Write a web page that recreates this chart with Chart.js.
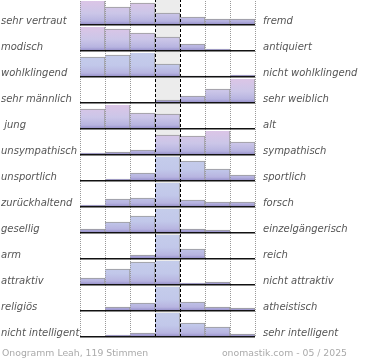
<!DOCTYPE html>
<html>
<head>
<meta charset="utf-8">
<script src="https://cdn.jsdelivr.net/npm/chart.js@4"></script>
<style>
  html, body { margin: 0; padding: 0; background: #fff; overflow: hidden; }
  #onogramm { position: absolute; left: 0; top: -1px; }
</style>
</head>
<body>
<canvas id="onogramm" width="370" height="362"></canvas>
<script>
// Gegensatzpaare (links / rechts)
const leftLabels = ["sehr vertraut", "modisch", "wohlklingend", "sehr männlich", " jung",
  "unsympathisch", "unsportlich", "zurückhaltend", "gesellig", "arm", "attraktiv",
  "religiös", "nicht intelligent"];
const rightLabels = ["fremd", "antiquiert", "nicht wohlklingend", "sehr weiblich", "alt",
  "sympathisch", "sportlich", "forsch", "einzelgängerisch", "reich", "nicht attraktiv",
  "atheistisch", "sehr intelligent"];
// 7-stufige Skala
const steps = ["1", "2", "3", "4", "5", "6", "7"];

// Stimmenanteile in Prozent je Zeile
const vertraut     = [28, 18, 22, 12, 8, 6, 6];
const modisch      = [37, 22, 18, 14, 7, 2, 0];
const wohlklingend = [20, 22, 41, 13, 1, 1, 2];
const maennlich    = [0, 0, 0, 3, 7, 14, 76];
const jung         = [20, 49, 16, 15, 0, 0, 0];
const sympathisch  = [2, 3, 5, 20, 19, 38, 13];
const sportlich    = [0, 2, 8, 52, 20, 12, 6];
const zurueck      = [2, 8, 9, 64, 7, 5, 5];
const gesellig     = [4, 11, 17, 61, 4, 3, 0];
const arm          = [0, 0, 4, 86, 10, 0, 0];
const attraktiv    = [7, 16, 23, 49, 2, 3, 0];
const religioes    = [0, 4, 8, 72, 9, 4, 3];
const intelligent  = [0, 2, 4, 67, 14, 10, 3];
const rows = [vertraut, modisch, wohlklingend, maennlich, jung, sympathisch, sportlich,
  zurueck, gesellig, arm, attraktiv, religioes, intelligent];

const footerLeft = "Onogramm Leah, 119 Stimmen";
const footerRight = "onomastik.com - 05 / 2025";

// rows whose bars fade to pink at the top (others to blue)
const pinkRows = [0, 1, 3, 4, 5];
const rowMax = 26;

function rowGradient(chart, i) {
  const s = chart.scales["y" + i];
  if (!s || s.bottom == null) return "#c5cdeb";
  const g = chart.ctx.createLinearGradient(0, s.top, 0, s.bottom);
  const pink = pinkRows.includes(i);
  g.addColorStop(0, pink ? "#dec5e6" : "#c5cdeb");
  g.addColorStop(0.55, pink ? "#cbc6e8" : "#c2c8ea");
  g.addColorStop(0.85, "#b7b4e0");
  g.addColorStop(1, "#9189c6");
  return g;
}

const isMid = (c) => c.index === 3 || c.index === 4;

const scales = {
  x: {
    type: "category",
    labels: steps,
    grid: { z: 1, offset: true, drawTicks: false, lineWidth: 1,
      color: (c) => isMid(c) ? "#000" : "#999" },
    border: { display: false, dash: (c) => isMid(c) ? [3, 2] : [1, 1] },
    ticks: { display: false },
  },
};
rows.forEach((r, i) => {
  scales["y" + i] = {
    stack: "rows",
    stackWeight: 1,
    weight: rows.length - i,
    position: "left",
    min: 0,
    max: rowMax,
    ticks: { display: false, stepSize: rowMax },
    grid: { z: 1, drawTicks: false, lineWidth: 1.5,
      color: (c) => c.tick && c.tick.value === 0 ? "#111" : "rgba(0,0,0,0)" },
    border: { display: false },
  };
});

const datasets = rows.map((r, i) => ({
  label: leftLabels[i].trim() + " / " + rightLabels[i],
  data: r,
  xAxisID: "x",
  yAxisID: "y" + i,
  grouped: false,
  barPercentage: 1,
  categoryPercentage: 1,
  borderWidth: { top: 1, right: 1, bottom: 0, left: 0 },
  borderColor: "#9a9a9a",
  backgroundColor: (c) => rowGradient(c.chart, i),
  clip: { left: 0, right: 0, top: -2, bottom: 0 },
}));

// grey band behind the neutral middle step
const centerShade = {
  id: "centerShade",
  beforeDatasetsDraw(chart) {
    const x = chart.scales.x, a = chart.chartArea;
    const w = (x.right - x.left) / steps.length;
    const cx = x.getPixelForValue(3);
    const ctx = chart.ctx;
    ctx.save();
    ctx.fillStyle = "#ececec";
    ctx.fillRect(cx - w / 2, a.top, w, a.bottom - a.top);
    ctx.restore();
  },
};

const sideLabels = {
  id: "sideLabels",
  afterDraw(chart) {
    const ctx = chart.ctx, a = chart.chartArea;
    ctx.save();
    ctx.font = 'italic 10px "DejaVu Sans"';
    ctx.fillStyle = "#555";
    ctx.textAlign = "left";
    ctx.textBaseline = "alphabetic";
    rows.forEach((r, i) => {
      const y = chart.scales["y" + i].bottom - 1;
      ctx.fillText(leftLabels[i], 1, y);
      ctx.fillText(rightLabels[i], a.right + 8, y);
    });
    ctx.font = '9.3px "DejaVu Sans"';
    ctx.fillStyle = "#aaa";
    ctx.fillText(footerLeft, 2, chart.height - 5);
    ctx.textAlign = "right";
    ctx.fillText(footerRight, 347, chart.height - 5);
    ctx.restore();
  },
};

new Chart(document.getElementById("onogramm"), {
  type: "bar",
  data: { labels: steps, datasets: datasets },
  plugins: [centerShade, sideLabels],
  options: {
    responsive: false,
    animation: false,
    events: [],
    layout: { padding: { left: 80, right: 115, top: 0, bottom: 24 } },
    scales: scales,
    plugins: {
      legend: { display: false },
      tooltip: { enabled: false },
    },
  },
});
</script>
</body>
</html>
